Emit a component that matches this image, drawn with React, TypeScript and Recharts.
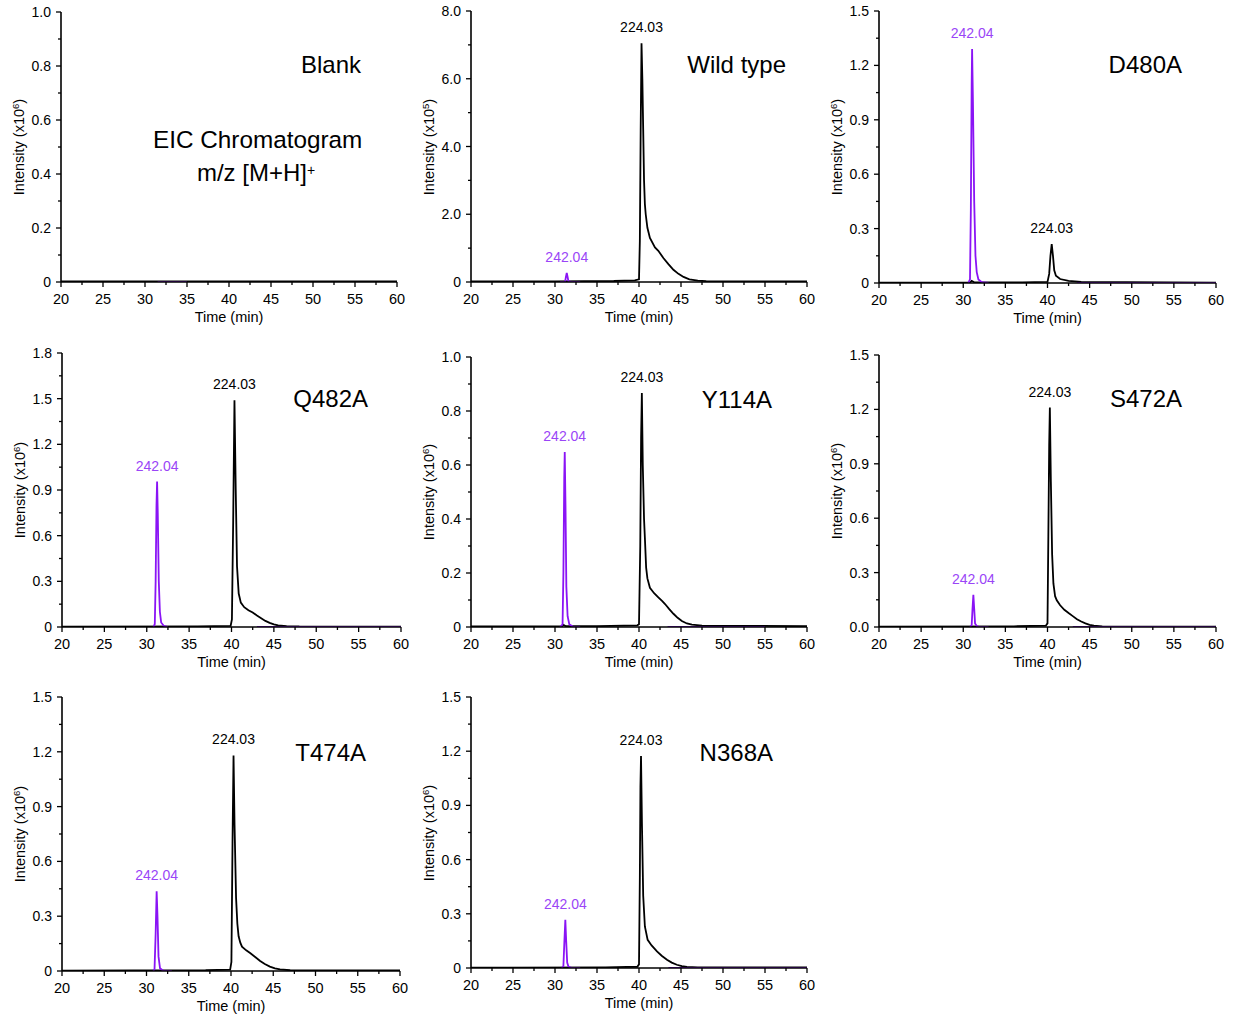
import React from 'react';
import { LineChart, Line, XAxis, YAxis, ReferenceDot } from 'recharts';

type Pt = [number, number | null];

const FONT = '"Liberation Sans", Arial, Helvetica, sans-serif';
const BLACK = '#000000';
const PURPLE = '#8a14f5';
const PURPLE_TEXT = '#9a45f7';

// shared time axis (min)
const xMajor = [20, 25, 30, 35, 40, 45, 50, 55, 60];
const xMinor = [22.5, 27.5, 32.5, 37.5, 42.5, 47.5, 52.5, 57.5];

// y tick sets
const y10Major = [0, 0.2, 0.4, 0.6, 0.8, 1.0];
const y10Minor = [0.1, 0.3, 0.5, 0.7, 0.9];
const y10Labels = ['0', '0.2', '0.4', '0.6', '0.8', '1.0'];

const y8Major = [0, 2, 4, 6, 8];
const y8Minor = [1, 3, 5, 7];
const y8Labels = ['0', '2.0', '4.0', '6.0', '8.0'];

const y15Major = [0, 0.3, 0.6, 0.9, 1.2, 1.5];
const y15Minor = [0.15, 0.45, 0.75, 1.05, 1.35];
const y15Labels = ['0', '0.3', '0.6', '0.9', '1.2', '1.5'];
const y15LabelsS = ['0.0', '0.3', '0.6', '0.9', '1.2', '1.5'];

const y18Major = [0, 0.3, 0.6, 0.9, 1.2, 1.5, 1.8];
const y18Minor = [0.15, 0.45, 0.75, 1.05, 1.35, 1.65];
const y18Labels = ['0', '0.3', '0.6', '0.9', '1.2', '1.5', '1.8'];

// Blank
const blank224: Pt[] = [[20, 0.002], [60, 0.002]];
const blank242: Pt[] = [[31.5, 0], [35, 0]];

// Wild type (x10^5)
const wt224: Pt[] = [
  [20, 0.02], [30, 0.02], [37, 0.03], [39.5, 0.05], [40.0, 0.08], [40.1, 1.2], [40.2, 4.5],
  [40.3, 7.05], [40.4, 6.0], [40.5, 4.5], [40.6, 3.0], [40.7, 2.3], [40.8, 2.0], [41.0, 1.6],
  [41.3, 1.3], [41.9, 1.02], [42.3, 0.92], [42.9, 0.71], [43.5, 0.53], [44.1, 0.36], [44.7, 0.24],
  [45.3, 0.15], [46.0, 0.08], [47.0, 0.04], [48.0, 0.025], [50, 0.02], [60, 0.02],
];
const wt242: Pt[] = [
  [30.6, 0], [31.2, 0], [31.3, 0.15], [31.4, 0.27], [31.5, 0.15], [31.6, 0.02], [32, 0], [33, 0],
];

// D480A (x10^6)
const d480a224: Pt[] = [
  [20, 0.002], [30.8, 0.002], [31.0, 0.012], [31.3, 0.004], [37, 0.004], [40.0, 0.006],
  [40.2, 0.05], [40.35, 0.15], [40.5, 0.215], [40.65, 0.15], [40.8, 0.07], [41.0, 0.04],
  [41.5, 0.022], [42.5, 0.012], [44, 0.006], [60, 0.002],
];
const d480a242: Pt[] = [
  [30.6, 0], [30.8, 0.02], [30.9, 0.4], [31.0, 1.1], [31.05, 1.29], [31.15, 1.0], [31.3, 0.45],
  [31.45, 0.15], [31.6, 0.06], [31.8, 0.02], [32.2, 0.005], [33, 0], [38, null], [43.5, 0], [60, 0],
];

// Q482A (x10^6)
const q482a224: Pt[] = [
  [20, 0.002], [36, 0.004], [39.9, 0.008], [40.05, 0.05], [40.2, 0.7], [40.35, 1.49], [40.5, 0.9],
  [40.65, 0.4], [40.85, 0.22], [41.1, 0.16], [41.5, 0.13], [42.0, 0.11], [42.5, 0.095], [43.0, 0.075],
  [43.5, 0.058], [44.0, 0.04], [44.5, 0.027], [45.0, 0.017], [45.5, 0.011], [46.5, 0.006],
  [48, 0.004], [60, 0.003],
];
const q482a242: Pt[] = [
  [30.8, 0], [30.95, 0.02], [31.05, 0.3], [31.15, 0.8], [31.22, 0.955], [31.3, 0.75], [31.42, 0.3],
  [31.55, 0.1], [31.7, 0.03], [32.0, 0.008], [32.5, 0], [38, null], [43, 0], [60, 0],
];

// Y114A (x10^6)
const y114a224: Pt[] = [
  [20, 0.002], [30.8, 0.002], [31.0, 0.008], [31.3, 0.003], [35, 0.003], [39.8, 0.006], [40.0, 0.01],
  [40.15, 0.3], [40.25, 0.7], [40.34, 0.867], [40.45, 0.6], [40.6, 0.4], [40.7, 0.33], [40.85, 0.22],
  [41.0, 0.18], [41.3, 0.145], [41.8, 0.125], [42.3, 0.11], [42.8, 0.095], [43.1, 0.085],
  [43.6, 0.066], [44.1, 0.049], [44.6, 0.034], [45.1, 0.022], [45.7, 0.013], [46.3, 0.009],
  [47.5, 0.005], [60, 0.003],
];
const y114a242: Pt[] = [
  [30.6, 0], [30.9, 0.01], [31.0, 0.2], [31.1, 0.55], [31.16, 0.648], [31.25, 0.45], [31.35, 0.15],
  [31.5, 0.04], [31.7, 0.01], [32.2, 0], [33, 0], [38, null], [43.4, 0], [55, 0],
];

// S472A (x10^6)
const s472a224: Pt[] = [
  [20, 0.002], [36, 0.004], [39.8, 0.007], [40.0, 0.02], [40.1, 0.5], [40.2, 1.0], [40.28, 1.21],
  [40.4, 0.8], [40.55, 0.4], [40.7, 0.24], [40.9, 0.17], [41.1, 0.147], [41.5, 0.12], [42.0, 0.095],
  [42.5, 0.077], [43.0, 0.06], [43.5, 0.043], [44.0, 0.03], [44.5, 0.02], [45.0, 0.012],
  [45.5, 0.007], [46.5, 0.004], [60, 0.002],
];
const s472a242: Pt[] = [
  [30.8, 0], [31.0, 0.01], [31.1, 0.1], [31.2, 0.178], [31.3, 0.1], [31.4, 0.02], [31.6, 0.005],
  [32, 0], [33, 0], [38, null], [43, 0], [60, 0],
];

// T474A (x10^6)
const t474a224: Pt[] = [
  [20, 0.002], [37, 0.004], [39.9, 0.008], [40.05, 0.05], [40.18, 0.7], [40.3, 1.18], [40.42, 0.8],
  [40.6, 0.4], [40.75, 0.26], [40.9, 0.19], [41.1, 0.155], [41.3, 0.133], [41.8, 0.113],
  [42.3, 0.097], [42.9, 0.075], [43.45, 0.055], [44.0, 0.038], [44.6, 0.024], [45.2, 0.015],
  [45.8, 0.009], [47, 0.004], [60, 0.003],
];
const t474a242: Pt[] = [
  [30.8, 0], [30.95, 0.01], [31.08, 0.2], [31.2, 0.437], [31.3, 0.3], [31.42, 0.08], [31.6, 0.015],
  [32, 0], [33, 0],
];

// N368A (x10^6)
const n368a224: Pt[] = [
  [20, 0.002], [36, 0.004], [39.8, 0.007], [40.0, 0.02], [40.1, 0.5], [40.17, 1.0], [40.24, 1.174],
  [40.35, 0.8], [40.5, 0.4], [40.7, 0.23], [41.03, 0.156], [41.5, 0.125], [42.14, 0.092],
  [42.7, 0.068], [43.33, 0.046], [43.9, 0.03], [44.5, 0.018], [45.1, 0.011], [45.7, 0.006],
  [47, 0.004], [60, 0.003],
];
const n368a242: Pt[] = [
  [30.8, 0], [31.0, 0.01], [31.12, 0.15], [31.23, 0.267], [31.33, 0.15], [31.45, 0.03], [31.6, 0.008],
  [32, 0], [33, 0], [38, null], [43.5, 0], [60, 0],
];

type PanelCfg = {
  name: string;
  axisX: number; top: number; right: number; bottom: number;
  titleRight: number; titleCy: number;
  yMax: number; yMajor: number[]; yMinor: number[]; yLabels: string[]; exp: string;
  black: Pt[]; purple: Pt[]; labels: boolean;
};

const panels: PanelCfg[] = [
  { name: 'Blank', axisX: 61, top: 12, right: 397, bottom: 282, titleRight: 361, titleCy: 65,
    yMax: 1.0, yMajor: y10Major, yMinor: y10Minor, yLabels: y10Labels, exp: '6', black: blank224, purple: blank242, labels: false },
  { name: 'Wild type', axisX: 471, top: 11, right: 807, bottom: 282, titleRight: 786, titleCy: 65,
    yMax: 8, yMajor: y8Major, yMinor: y8Minor, yLabels: y8Labels, exp: '5', black: wt224, purple: wt242, labels: true },
  { name: 'D480A', axisX: 879, top: 11, right: 1216, bottom: 283, titleRight: 1182, titleCy: 65,
    yMax: 1.5, yMajor: y15Major, yMinor: y15Minor, yLabels: y15Labels, exp: '6', black: d480a224, purple: d480a242, labels: true },
  { name: 'Q482A', axisX: 62, top: 353, right: 401, bottom: 627, titleRight: 368, titleCy: 399,
    yMax: 1.8, yMajor: y18Major, yMinor: y18Minor, yLabels: y18Labels, exp: '6', black: q482a224, purple: q482a242, labels: true },
  { name: 'Y114A', axisX: 471, top: 357, right: 807, bottom: 627, titleRight: 772, titleCy: 400,
    yMax: 1.0, yMajor: y10Major, yMinor: y10Minor, yLabels: y10Labels, exp: '6', black: y114a224, purple: y114a242, labels: true },
  { name: 'S472A', axisX: 879, top: 355, right: 1216, bottom: 627, titleRight: 1182, titleCy: 399,
    yMax: 1.5, yMajor: y15Major, yMinor: y15Minor, yLabels: y15LabelsS, exp: '6', black: s472a224, purple: s472a242, labels: true },
  { name: 'T474A', axisX: 62, top: 697, right: 400, bottom: 971, titleRight: 366, titleCy: 753,
    yMax: 1.5, yMajor: y15Major, yMinor: y15Minor, yLabels: y15Labels, exp: '6', black: t474a224, purple: t474a242, labels: true },
  { name: 'N368A', axisX: 471, top: 697, right: 807, bottom: 968, titleRight: 773, titleCy: 753,
    yMax: 1.5, yMajor: y15Major, yMinor: y15Minor, yLabels: y15Labels, exp: '6', black: n368a224, purple: n368a242, labels: true },
];

const toPts = (arr: Pt[]) => arr.map(([t, v]) => ({ t, v }));
const peakOf = (arr: Pt[]) =>
  arr.reduce((best, p) => (p[1] !== null && (best[1] === null || p[1] > (best[1] as number)) ? p : best), arr[0]);

const xTicks = [...xMajor, ...xMinor].sort((a, b) => a - b);
const near = (a: number, b: number) => Math.abs(a - b) < 1e-6;

const renderXTick = (props: any) => {
  const { x, y, payload } = props;
  const major = xMajor.some((m) => near(m, payload.value));
  return (
    <g>
      <line x1={x} x2={x} y1={y} y2={y + (major ? 5 : 3)} stroke={BLACK} strokeWidth={1.3} />
      {major && (
        <text x={x} y={y + 22} textAnchor="middle" fontSize={14.5} fill={BLACK} fontFamily={FONT}>
          {payload.value}
        </text>
      )}
    </g>
  );
};

const makeYTick = (majors: number[], labels: string[]) => (props: any) => {
  const { x, y, payload } = props;
  const idx = majors.findIndex((m) => near(m, payload.value));
  const major = idx >= 0;
  return (
    <g>
      <line x1={x - (major ? 5 : 3)} x2={x} y1={y} y2={y} stroke={BLACK} strokeWidth={1.3} />
      {major && (
        <text x={x - 10} y={y} dy="0.36em" textAnchor="end" fontSize={14} fill={BLACK} fontFamily={FONT}>
          {labels[idx]}
        </text>
      )}
    </g>
  );
};

const ML = 60;
const MT = 12;
const MR = 20;
const XH = 50;

function Panel({ p }: { p: PanelCfg }) {
  const plotW = p.right - p.axisX;
  const plotH = p.bottom - p.top;
  const width = ML + plotW + MR;
  const height = MT + plotH + XH;
  const yTicks = [...p.yMajor, ...p.yMinor].sort((a, b) => a - b);
  const bPeak = peakOf(p.black);
  const pPeak = peakOf(p.purple);
  return (
    <div style={{ position: 'absolute', left: p.axisX - ML, top: p.top - MT, width, height }}>
      <LineChart width={width} height={height} margin={{ top: MT, right: MR, left: 0, bottom: 0 }}>
        <XAxis
          type="number"
          dataKey="t"
          domain={[20, 60]}
          ticks={xTicks}
          interval={0}
          allowDataOverflow
          height={XH}
          tickSize={0}
          tickMargin={0}
          tickLine={false}
          tick={renderXTick}
          axisLine={{ stroke: BLACK, strokeWidth: 1.6 }}
          label={{ value: 'Time (min)', position: 'insideBottom', offset: 10, fill: BLACK, fontSize: 14.5, fontFamily: FONT }}
        />
        <YAxis
          type="number"
          dataKey="v"
          domain={[0, p.yMax]}
          ticks={yTicks}
          interval={0}
          allowDataOverflow
          width={ML}
          tickSize={0}
          tickMargin={0}
          tickLine={false}
          tick={makeYTick(p.yMajor, p.yLabels)}
          axisLine={{ stroke: BLACK, strokeWidth: 1.6 }}
        />
        <Line data={toPts(p.black)} dataKey="v" type="linear" stroke={BLACK} strokeWidth={1.8} dot={false} isAnimationActive={false} />
        <Line data={toPts(p.purple)} dataKey="v" type="linear" stroke={PURPLE} strokeWidth={1.8} dot={false} connectNulls={false} isAnimationActive={false} />
        {p.labels && (
          <ReferenceDot x={bPeak[0]} y={bPeak[1] as number} r={1} fill="none" stroke="none" ifOverflow="visible"
            label={{ value: '224.03', position: 'top', offset: 10, fill: BLACK, fontSize: 14, fontFamily: FONT }} />
        )}
        {p.labels && (
          <ReferenceDot x={pPeak[0]} y={pPeak[1] as number} r={1} fill="none" stroke="none" ifOverflow="visible"
            label={{ value: '242.04', position: 'top', offset: 10, fill: PURPLE_TEXT, fontSize: 14, fontFamily: FONT }} />
        )}
      </LineChart>
      <div
        style={{
          position: 'absolute', left: ML - 44, top: MT + plotH / 2, transform: 'translate(-50%, -50%) rotate(-90deg)',
          whiteSpace: 'nowrap', fontSize: 14.5, lineHeight: '16px', fontFamily: FONT, color: BLACK,
        }}
      >
        Intensity (x10<span style={{ fontSize: 9.5, verticalAlign: 5 }}>{p.exp}</span>)
      </div>
    </div>
  );
}

export default function App() {
  return (
    <div style={{ position: 'absolute', left: 0, top: 0, width: 1233, height: 1016, background: '#fff', fontFamily: FONT }}>
      {panels.map((p) => (
        <Panel key={p.name} p={p} />
      ))}
      {panels.map((p) => (
        <div key={p.name + '-t'} style={{ position: 'absolute', left: p.titleRight - 200, width: 200, top: p.titleCy - 13, textAlign: 'right', fontSize: 24, lineHeight: '26px', color: BLACK, whiteSpace: 'nowrap' }}>
          {p.name}
        </div>
      ))}
      <div style={{ position: 'absolute', left: 153, width: 200, top: 127, textAlign: 'center', fontSize: 24.3, lineHeight: '26px', whiteSpace: 'nowrap' }}>
        EIC Chromatogram
      </div>
      <div style={{ position: 'absolute', left: 156, width: 200, top: 157, textAlign: 'center', fontSize: 24, lineHeight: '26px', whiteSpace: 'nowrap' }}>
        m/z [M+H]<span style={{ fontSize: 14, verticalAlign: 6 }}>+</span>
      </div>
    </div>
  );
}
